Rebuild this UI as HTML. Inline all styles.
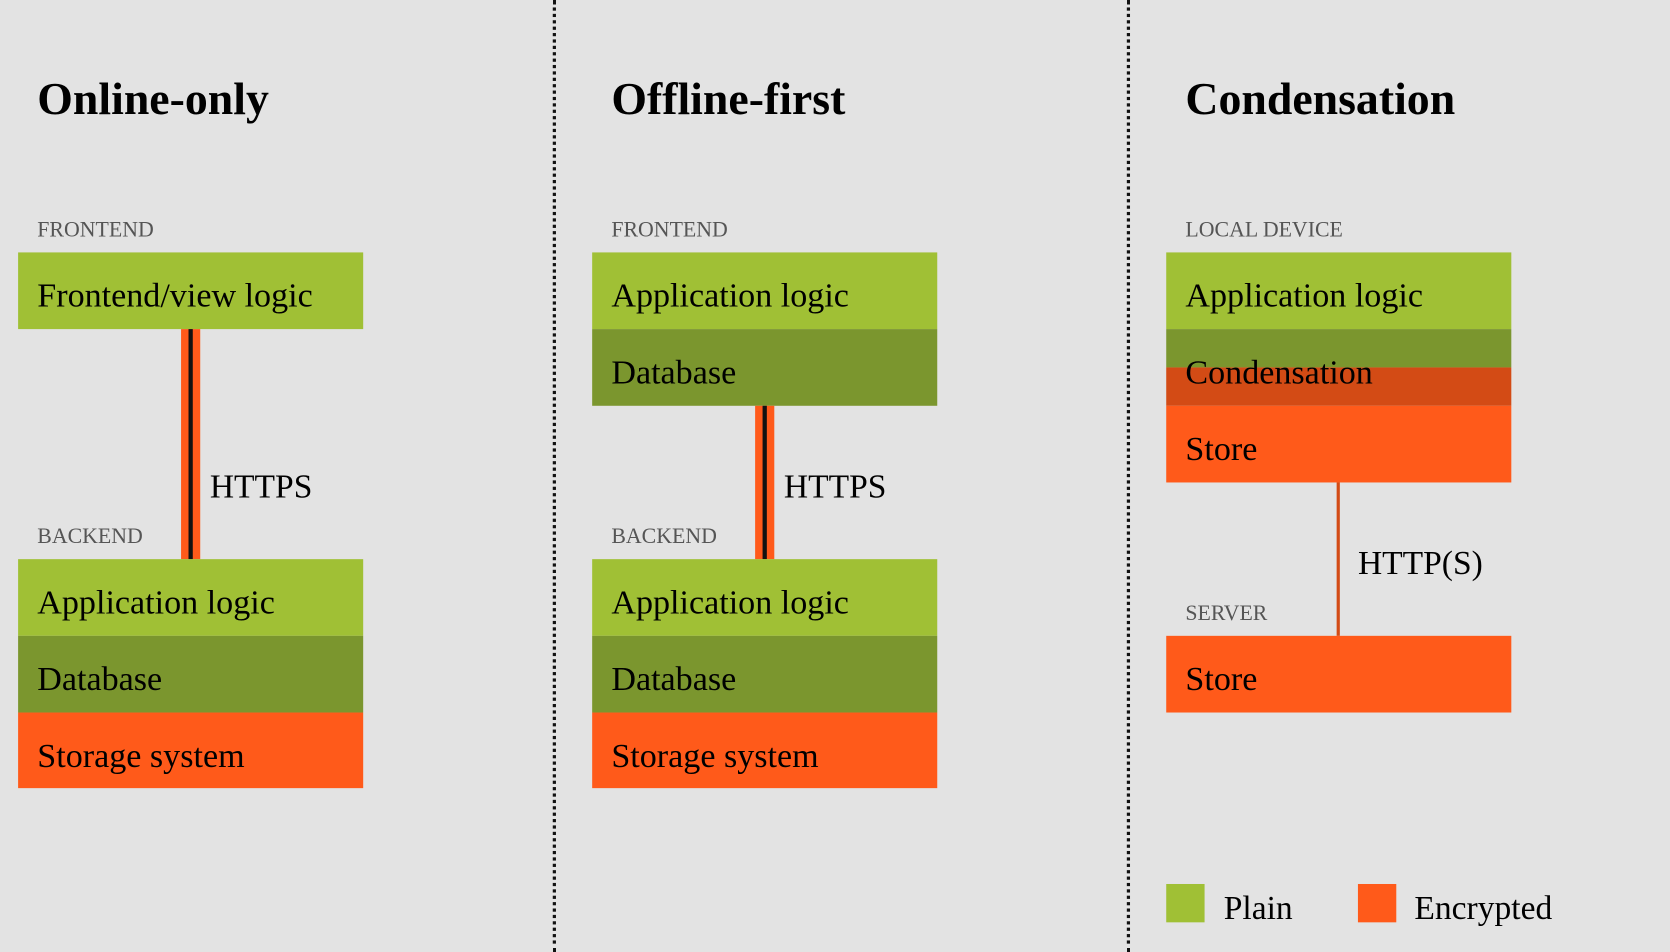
<!DOCTYPE html>
<html><head><meta charset="utf-8"><style>
html,body{margin:0;padding:0;width:1670px;height:952px;overflow:hidden;background:#e3e3e3}
#c{position:absolute;left:0;top:0;width:1568px;height:894px;transform:scale(1.06505);transform-origin:0 0;font-family:"Liberation Serif",serif;color:#000}
#c div{position:absolute;box-sizing:border-box}
.t{font-size:43px;font-weight:bold;line-height:44px}
.l{font-size:20.5px;color:#555;line-height:20px}
.b{height:72px;width:324px;font-size:32px;line-height:80px;padding-left:18px;overflow:visible}
.g{background:#a0c035}.d{background:#7b962e}.o{background:#ff5a1a}
.v{border-left:3px dotted #111;width:0;top:0;height:894px}
.cn{width:18px;background:#ff5a1a}
.cn::after{content:"";position:absolute;left:7px;top:0;width:4px;height:100%;background:#111}
.h{font-size:31.5px;line-height:30px}
</style></head><body><div id="c">
<div class="v" style="left:519px"></div>
<div class="v" style="left:1058px"></div>

<div class="t" style="left:35px;top:72px">Online-only</div>
<div class="l" style="left:35px;top:206px">FRONTEND</div>
<div class="b g" style="left:17px;top:237px">Frontend/view logic</div>
<div class="cn" style="left:170px;top:309px;height:216px"></div>
<div class="h" style="left:197px;top:442px">HTTPS</div>
<div class="l" style="left:35px;top:494px">BACKEND</div>
<div class="b g" style="left:17px;top:525px">Application logic</div>
<div class="b d" style="left:17px;top:597px">Database</div>
<div class="b o" style="left:17px;top:669px;height:71px">Storage system</div>

<div class="t" style="left:574px;top:72px">Offline-first</div>
<div class="l" style="left:574px;top:206px">FRONTEND</div>
<div class="b g" style="left:556px;top:237px">Application logic</div>
<div class="b d" style="left:556px;top:309px">Database</div>
<div class="cn" style="left:709px;top:381px;height:144px"></div>
<div class="h" style="left:736px;top:442px">HTTPS</div>
<div class="l" style="left:574px;top:494px">BACKEND</div>
<div class="b g" style="left:556px;top:525px">Application logic</div>
<div class="b d" style="left:556px;top:597px">Database</div>
<div class="b o" style="left:556px;top:669px;height:71px">Storage system</div>

<div class="t" style="left:1113px;top:72px">Condensation</div>
<div class="l" style="left:1113px;top:206px">LOCAL DEVICE</div>
<div class="b g" style="left:1095px;top:237px">Application logic</div>
<div class="d" style="left:1095px;top:309px;width:324px;height:36px"></div>
<div style="left:1095px;top:345px;width:324px;height:36px;background:#d34b15"></div>
<div class="b" style="left:1095px;top:309px">Condensation</div>
<div class="b o" style="left:1095px;top:381px">Store</div>
<div style="left:1255px;top:453px;width:3px;height:144px;background:#d34b15"></div>
<div class="h" style="left:1275px;top:514px">HTTP(S)</div>
<div class="l" style="left:1113px;top:566px">SERVER</div>
<div class="b o" style="left:1095px;top:597px">Store</div>

<div class="g" style="left:1095px;top:830px;width:36px;height:36px"></div>
<div class="h" style="left:1149px;top:838px">Plain</div>
<div class="o" style="left:1275px;top:830px;width:36px;height:36px"></div>
<div class="h" style="left:1328px;top:838px">Encrypted</div>
</div></body></html>
